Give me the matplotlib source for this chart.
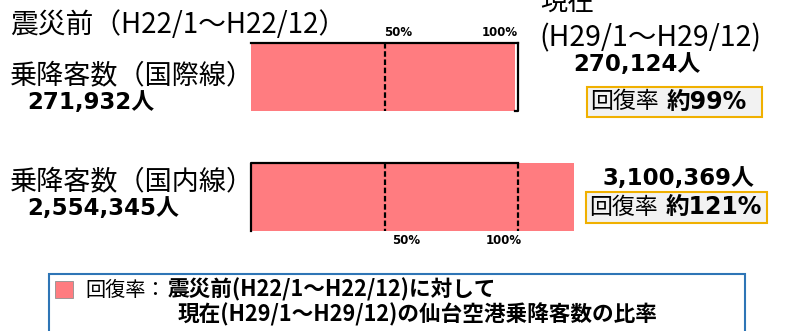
import matplotlib
matplotlib.use("Agg")
from matplotlib import pyplot as plt
from matplotlib.patches import Rectangle

# Data
routes = ["国際線", "国内線"]
before = [271932, 2554345]     # 震災前 (H22/1～H22/12)
current = [270124, 3100369]    # 現在 (H29/1～H29/12)
recovery = [99, 121]           # 回復率 (%)
guides = [50, 100]

PINK = "#ff7c80"
GOLD = "#f0b000"
BLUE = "#2e75b6"
JP = ["Noto Sans CJK JP", "DejaVu Sans"]
NUM = ["DejaVu Sans", "Noto Sans CJK JP"]

fig = plt.figure(figsize=(7.88, 3.31), dpi=100)

# bar axes: x in percent, y in pixels
x0 = 251; ppp = 2.67
ax = fig.add_axes([0, 0, 1, 1])
ax.set_xlim(-x0 / ppp, (788 - x0) / ppp)
ax.set_ylim(331, 0)
ax.axis("off")

ycent = [77, 197]; bh = 68
ax.barh(ycent, recovery, height=bh, left=0, color=PINK, zorder=1)

lw = 1.6
# top bar frame: top edge, right edge, small bottom tail
t, b = ycent[0] - bh / 2, ycent[0] + bh / 2
ax.plot([0, 100], [t, t], color="black", lw=lw, zorder=3, solid_capstyle="projecting")
ax.plot([100, 100, recovery[0]], [t, b, b], color="black", lw=lw, zorder=3)
ax.plot([50, 50], [t, b], color="black", lw=lw, ls=(0, (2.5, 1.2)), zorder=3)
# bottom bar frame: left edge and top edge
t, b = ycent[1] - bh / 2, ycent[1] + bh / 2
ax.plot([0, 0, 100], [b, t, t], color="black", lw=lw, zorder=3)
for g in guides:
    ax.plot([g, g], [t, b], color="black", lw=lw, ls=(0, (2.5, 1.2)), zorder=3)

# percentage labels
ax.text(50, 32, "50%", ha="left", va="center", fontsize=8.5, weight="bold", family=NUM)
ax.text(100, 32, "100%", ha="right", va="center", fontsize=8.5, weight="bold", family=NUM)
ax.text(53, 241, "50%", ha="left", va="center", fontsize=8.5, weight="bold", family=NUM)
ax.text(88, 241, "100%", ha="left", va="center", fontsize=8.5, weight="bold", family=NUM)

# overlay in pixel coordinates for the text blocks
ov = fig.add_axes([0, 0, 1, 1], zorder=5)
ov.set_xlim(0, 788)
ov.set_ylim(331, 0)
ov.axis("off")
ov.patch.set_alpha(0)

ov.text(10, 25, "震災前（H22/1～H22/12）", va="center", fontsize=20, family=JP)
ov.text(540, 2, "現在", va="center", fontsize=19.5, family=JP)
ov.text(539, 38, "(H29/1～H29/12)", va="center", fontsize=20.5, family=JP)

label_y = [76, 182]
num_y = [103, 209]
for i, r in enumerate(routes):
    ov.text(10, label_y[i], f"乗降客数（{r}）", va="center", fontsize=19.5, family=JP)
    ov.text(27, num_y[i], f"{before[i]:,}人", va="center", fontsize=16.5, weight="bold", family=NUM)

cur_x = [573, 603]
cur_y = [65, 179]
box_x = [587, 586]
box_y = [87, 192]
box_w = [175, 181]
box_h = [30, 31]
for i in range(len(routes)):
    ov.text(cur_x[i], cur_y[i], f"{current[i]:,}人", va="center", fontsize=16.5, weight="bold", family=NUM)
    ov.add_patch(Rectangle((box_x[i], box_y[i]), box_w[i], box_h[i], facecolor="#f2f2f2",
                           edgecolor=GOLD, lw=1.5))
    cy = box_y[i] + box_h[i] / 2
    ov.text(box_x[i] + 3, cy, "回復率", va="center", fontsize=16.5, family=JP)
    ov.text(box_x[i] + 80, cy, f"約{recovery[i]}%", va="center", fontsize=17, weight="bold", family=NUM)

# legend box
ov.add_patch(Rectangle((49, 274), 696, 70, facecolor="white", edgecolor=BLUE, lw=1.5, clip_on=False))
ov.add_patch(Rectangle((55, 281), 18, 17, facecolor=PINK, edgecolor="#909090", lw=0.6))
ov.text(85, 290, "回復率：", va="center", fontsize=14.5, family=JP)
ov.text(168, 290, "震災前(H22/1～H22/12)に対して", va="center", fontsize=15.6, weight="bold", family=JP)
ov.text(178, 315, "現在(H29/1～H29/12)の仙台空港乗降客数の比率", va="center", fontsize=15.6,
        weight="bold", family=JP)

fig.savefig("out.png", dpi=100)
